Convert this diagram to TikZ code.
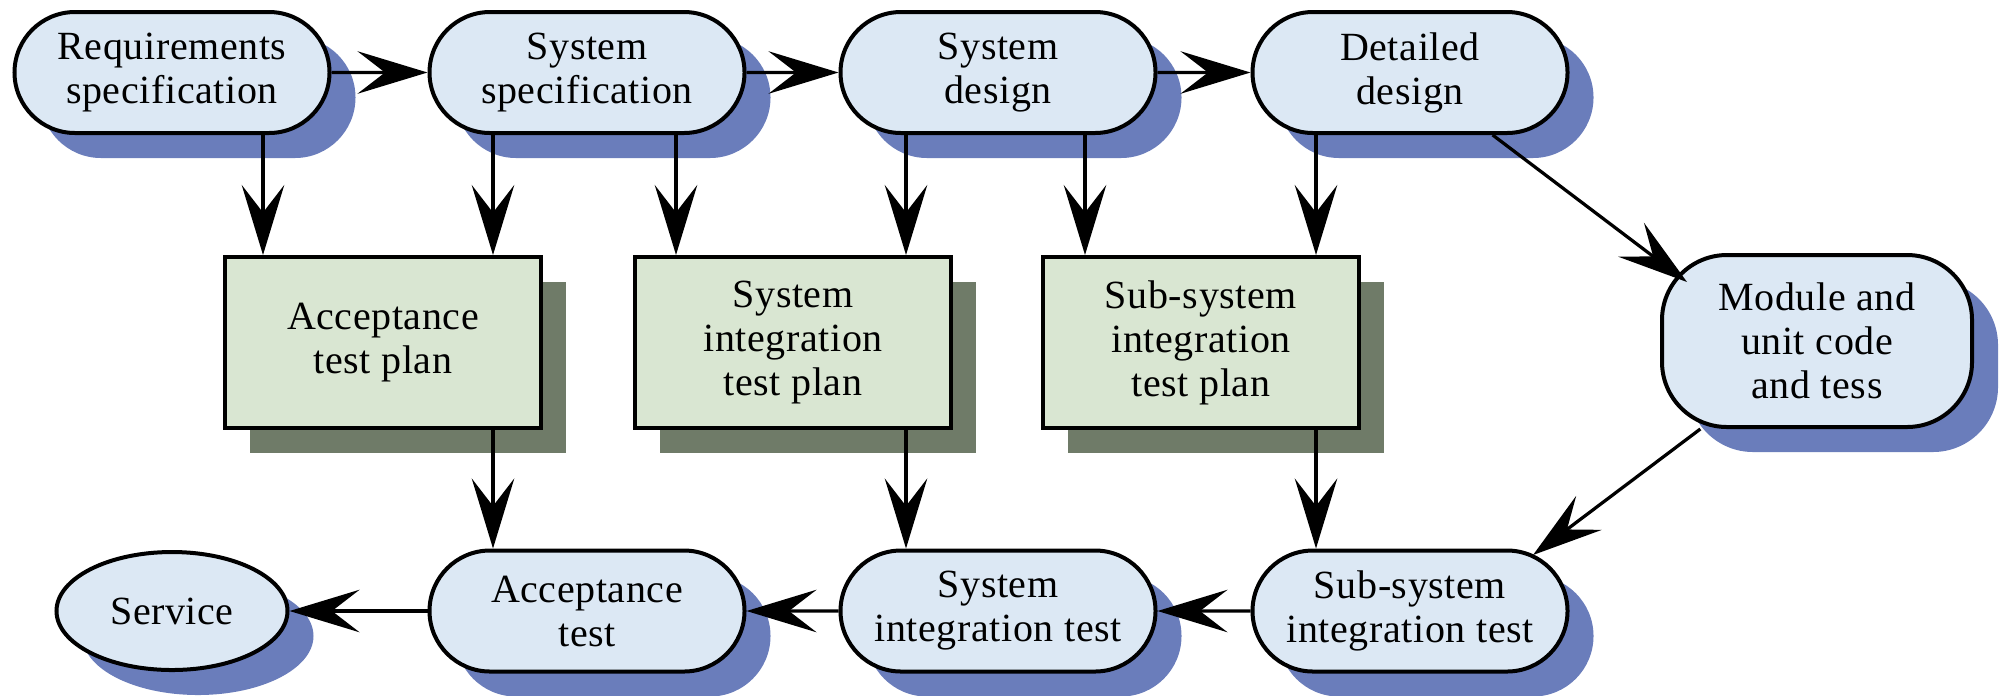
\documentclass[tikz,border=0pt]{standalone}
\usepackage{fontspec}
\setmainfont{Liberation Serif}[LetterSpace=1.5]
\usetikzlibrary{shapes.misc,shapes.geometric,shadows,arrows.meta,calc}
\definecolor{stadfill}{HTML}{DCE8F4}
\definecolor{stadshadow}{HTML}{6A7DBB}
\definecolor{boxfill}{HTML}{D9E6D2}
\definecolor{boxshadow}{HTML}{6F7B68}
\begin{document}
\begin{tikzpicture}[x=0.4pt,y=-0.4pt,
  every node/.style={font=\fontsize{16}{17.6}\selectfont, align=center, inner sep=0pt},
  stad/.style={rounded rectangle, draw, line width=1.6pt, fill=stadfill,
    minimum width=126pt, minimum height=48.4pt,
    drop shadow={shadow xshift=10.4pt, shadow yshift=-10pt, fill=stadshadow, opacity=1}},
  modbox/.style={rectangle, rounded corners=26pt, draw, line width=1.6pt, fill=stadfill,
    minimum width=124pt, minimum height=68.8pt,
    drop shadow={shadow xshift=10.4pt, shadow yshift=-10pt, fill=stadshadow, opacity=1}},
  oval/.style={ellipse, draw, line width=1.6pt, fill=stadfill,
    minimum width=92.4pt, minimum height=47.2pt,
    drop shadow={shadow xshift=10.4pt, shadow yshift=-10pt, fill=stadshadow, opacity=1}},
  plan/.style={rectangle, draw, line width=1.6pt, fill=boxfill,
    minimum width=126.4pt, minimum height=68.4pt,
    drop shadow={shadow xshift=10pt, shadow yshift=-10pt, fill=boxshadow, opacity=1}},
  arr/.style={line width=1.3pt, -{Stealth[length=28pt,width=17pt,inset=11pt]}}
]
\useasboundingbox (0,0) rectangle (2004,695);

% top row
\node[stad] (Req)      at (172,72.5)  {Requirements\\specification};
\node[stad] (SysSpec)  at (587,72.5)  {System\\specification};
\node[stad] (SysDes)   at (998,72.5)  {System\\design};
\node[stad] (Detailed) at (1410,72.5) {Detailed\\design};

% plans
\node[plan] (AccPlan) at (383,342.5)  {Acceptance\\test plan};
\node[plan] (SysPlan) at (793,342.5)  {System\\integration\\test plan};
\node[plan] (SubPlan) at (1201,342.5) {Sub-system\\integration\\test plan};

% module
\node[modbox] (Module) at (1817,341) {Module and\\unit code\\and tess};

% bottom row
\node[oval] (Service)    at (172,611)  {Service};
\node[stad] (AccTest)    at (587,611)  {Acceptance\\test};
\node[stad] (SysIntTest) at (998,611)  {System\\integration test};
\node[stad] (SubIntTest) at (1410,611) {Sub-system\\integration test};

% helper coordinates
\coordinate (v1) at (263,0);
\coordinate (v2) at (493,0);
\coordinate (v3) at (676,0);
\coordinate (v4) at (906,0);
\coordinate (v5) at (1085,0);
\coordinate (v6) at (1316,0);
\coordinate (m1) at (1687,282);
\coordinate (s1) at (1533,555);

% horizontal arrows
\draw[arr] (Req) -- (SysSpec);
\draw[arr] (SysSpec) -- (SysDes);
\draw[arr] (SysDes) -- (Detailed);
\draw[arr] (SubIntTest) -- (SysIntTest);
\draw[arr] (SysIntTest) -- (AccTest);
\draw[arr] (AccTest) -- (Service);

% vertical arrows
\draw[arr] (Req.south -| v1) -- (AccPlan.north -| v1);
\draw[arr] (SysSpec.south -| v2) -- (AccPlan.north -| v2);
\draw[arr] (SysSpec.south -| v3) -- (SysPlan.north -| v3);
\draw[arr] (SysDes.south -| v4) -- (SysPlan.north -| v4);
\draw[arr] (SysDes.south -| v5) -- (SubPlan.north -| v5);
\draw[arr] (Detailed.south -| v6) -- (SubPlan.north -| v6);
\draw[arr] (AccPlan.south -| v2) -- (AccTest.north -| v2);
\draw[arr] (SysPlan.south -| v4) -- (SysIntTest.north -| v4);
\draw[arr] (SubPlan.south -| v6) -- (SubIntTest.north -| v6);

% diagonal arrows
\draw[arr] (Detailed) -- (m1);
\draw[arr] (Module) -- (s1);
\end{tikzpicture}
\end{document}
